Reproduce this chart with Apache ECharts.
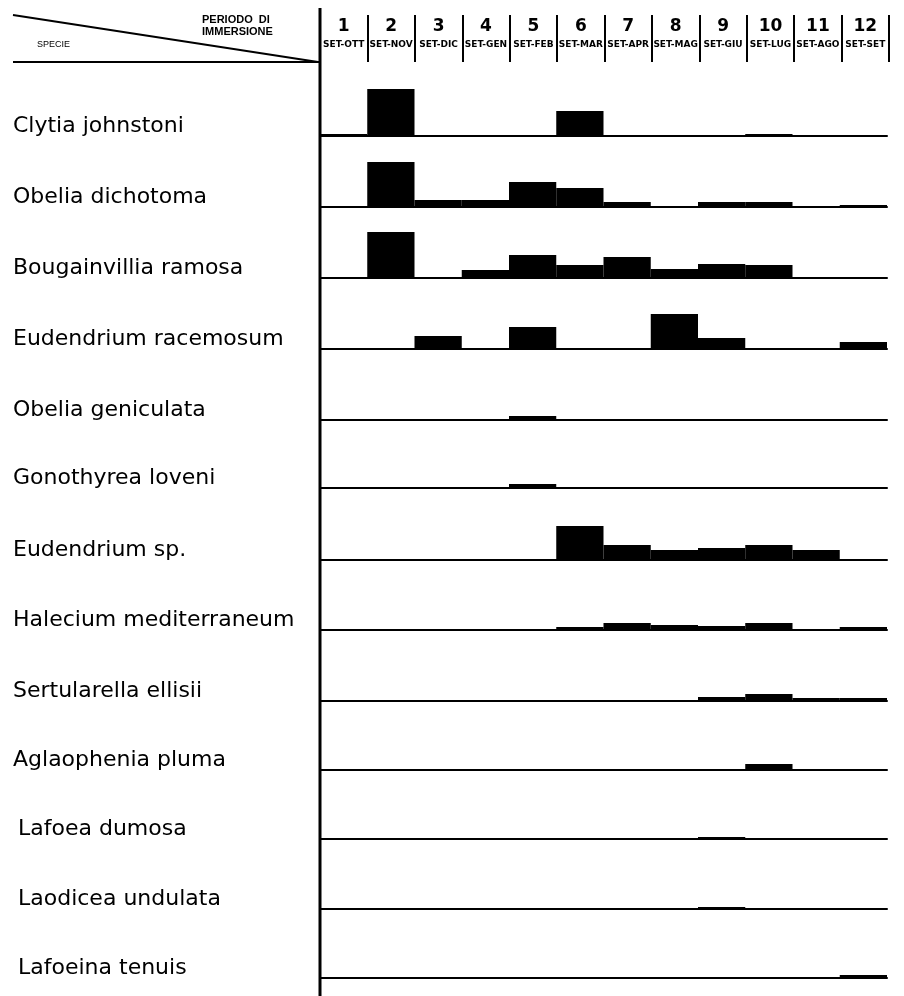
<!DOCTYPE html>
<html>
<head>
<meta charset="utf-8">
<script src="https://cdn.jsdelivr.net/npm/echarts@6/dist/echarts.min.js"></script>
<style>
  html, body { margin: 0; padding: 0; background: #fff; }
  #chart { width: 904px; height: 996px; }
</style>
</head>
<body>
<div id="chart"></div>
<script>
// Immersion periods (columns)
const periodNums = ['1', '2', '3', '4', '5', '6', '7', '8', '9', '10', '11', '12'];
const periodLabels = ['SET-OTT', 'SET-NOV', 'SET-DIC', 'SET-GEN', 'SET-FEB', 'SET-MAR',
                      'SET-APR', 'SET-MAG', 'SET-GIU', 'SET-LUG', 'SET-AGO', 'SET-SET'];

// Species (rows)
const species = [
  'Clytia johnstoni', 'Obelia dichotoma', 'Bougainvillia ramosa', 'Eudendrium racemosum',
  'Obelia geniculata', 'Gonothyrea loveni', 'Eudendrium sp.', 'Halecium mediterraneum',
  'Sertularella ellisii', 'Aglaophenia pluma', 'Lafoea dumosa', 'Laodicea undulata',
  'Lafoeina tenuis'
];

// Relative abundance per period for each species
const clytiaJohnstoni      = [2, 47, 0, 1, 1, 25, 0, 0, 1, 2, 1, 0];
const obeliaDichotoma      = [0, 45, 7, 7, 25, 19, 5, 1, 5, 5, 0, 2];
const bougainvilliaRamosa  = [1, 46, 0, 8, 23, 13, 21, 9, 14, 13, 1, 0];
const eudendriumRacemosum  = [0, 0, 13, 0, 22, 1, 0, 35, 11, 0, 0, 7];
const obeliaGeniculata     = [0, 0, 0, 0, 4, 1, 0, 0, 1, 0, 0, 0];
const gonothyreaLoveni     = [0, 0, 0, 0, 4, 1, 1, 0, 0, 0, 0, 1];
const eudendriumSp         = [0, 0, 0, 0, 0, 34, 15, 10, 12, 15, 10, 0];
const halecium             = [0, 0, 0, 0, 0, 3, 7, 5, 4, 7, 1, 3];
const sertularellaEllisii  = [0, 0, 0, 0, 0, 0, 0, 1, 4, 7, 3, 3];
const aglaopheniaPluma     = [0, 0, 0, 0, 0, 0, 0, 0, 0, 6, 0, 0];
const lafoeaDumosa         = [0, 0, 0, 0, 0, 0, 0, 1, 2, 0, 1, 1];
const laodiceaUndulata     = [0, 0, 0, 0, 0, 0, 0, 0, 2, 1, 0, 0];
const lafoeinaTenuis       = [0, 0, 0, 0, 0, 0, 0, 0, 0, 0, 0, 3];

const rows = [
  clytiaJohnstoni, obeliaDichotoma, bougainvilliaRamosa, eudendriumRacemosum,
  obeliaGeniculata, gonothyreaLoveni, eudendriumSp, halecium,
  sertularellaEllisii, aglaopheniaPluma, lafoeaDumosa, laodiceaUndulata, lafoeinaTenuis
];

// Layout: baseline of each row strip
const baselines = [136, 207, 278, 349, 420, 488, 560, 630, 701, 770, 839, 909, 978];
const stripHeight = 50;
const labelFont = '"DejaVu Sans", Verdana, sans-serif';
const headFont = '"Liberation Sans", Arial, sans-serif';

const grids = [{ left: 320, right: 15, top: 15, height: 47 }];
const xAxes = [{
  gridIndex: 0, type: 'category', data: periodNums, position: 'top', boundaryGap: true,
  axisLine: { show: false }, axisTick: { show: false },
  splitLine: { show: true, interval: 0, lineStyle: { color: '#000', width: 2 } },
  axisLabel: {
    inside: true, margin: 1, interval: 0,
    formatter: (v, i) => `{n|${v}}\n{s|${periodLabels[i]}}`,
    rich: {
      n: { fontFamily: labelFont, fontWeight: 'bold', fontSize: 17, lineHeight: 21, color: '#000' },
      s: { fontFamily: labelFont, fontWeight: 'bold', fontSize: 9, lineHeight: 16, color: '#000' }
    }
  }
}];
const yAxes = [{ gridIndex: 0, type: 'value', show: false }];
const series = [];
const graphics = [];

rows.forEach((vals, i) => {
  const gi = i + 1;
  grids.push({ left: 320, right: 17, top: baselines[i] - stripHeight, height: stripHeight });
  xAxes.push({
    gridIndex: gi, type: 'category', data: periodNums, boundaryGap: true,
    axisLine: { show: true, lineStyle: { color: '#000', width: 2 } },
    axisTick: { show: false }, axisLabel: { show: false }, splitLine: { show: false }
  });
  yAxes.push({ gridIndex: gi, type: 'value', min: 0, max: stripHeight, show: false });
  series.push({
    type: 'bar', name: species[i], xAxisIndex: gi, yAxisIndex: gi, data: vals,
    barWidth: '100%', itemStyle: { color: '#000' }, silent: true
  });
  graphics.push({
    type: 'text', x: i >= 10 ? 18 : 13, y: baselines[i] - 10,
    style: { text: species[i], font: '22px ' + labelFont, fill: '#000', verticalAlign: 'middle' }
  });
});

// Header frame: corner diagonal, rule and the main vertical axis
graphics.push(
  { type: 'line', shape: { x1: 320, y1: 8, x2: 320, y2: 996 }, style: { stroke: '#000', lineWidth: 3 } },
  { type: 'line', shape: { x1: 13, y1: 15, x2: 318, y2: 62 }, style: { stroke: '#000', lineWidth: 2 } },
  { type: 'line', shape: { x1: 13, y1: 62, x2: 320, y2: 62 }, style: { stroke: '#000', lineWidth: 2 } },
  { type: 'text', left: 202, top: 14, style: { text: 'PERIODO  DI', font: 'bold 11px ' + headFont, fill: '#000' } },
  { type: 'text', left: 202, top: 26, style: { text: 'IMMERSIONE', font: 'bold 11px ' + headFont, fill: '#000' } },
  { type: 'text', left: 37, top: 40, style: { text: 'SPECIE', font: '9px ' + headFont, fill: '#000' } }
);

const chart = echarts.init(document.getElementById('chart'), null, { renderer: 'canvas' });
chart.setOption({
  backgroundColor: '#fff',
  animation: false,
  grid: grids,
  xAxis: xAxes,
  yAxis: yAxes,
  series: series,
  graphic: graphics
});
</script>
</body>
</html>
